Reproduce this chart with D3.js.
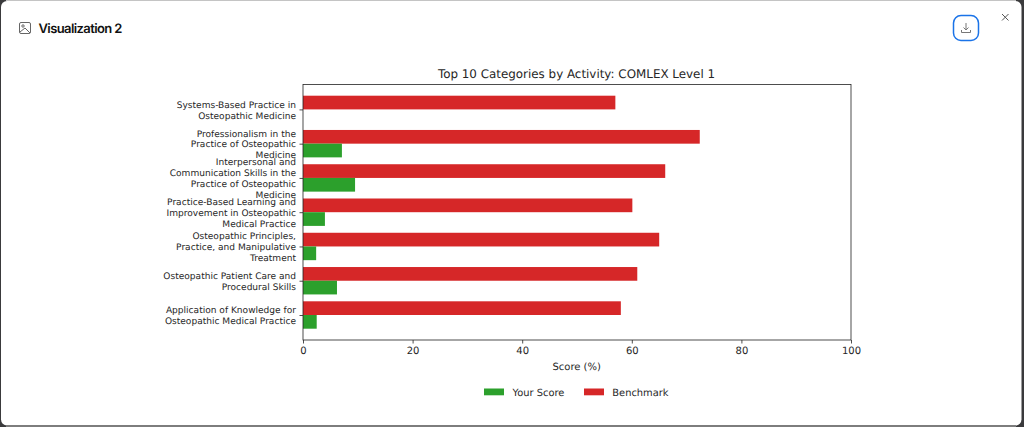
<!DOCTYPE html>
<html><head><meta charset="utf-8">
<script src="https://cdn.jsdelivr.net/npm/d3@7"></script>
<style>
html,body{margin:0;padding:0;background:#fff;overflow:hidden}
svg{display:block}
text{font-family:"DejaVu Sans",sans-serif;fill:#262626;text-rendering:geometricPrecision}
</style></head><body>
<svg id="c" width="1024" height="427"></svg>
<script>
const categories = [
  ["Systems-Based Practice in","Osteopathic Medicine"],
  ["Professionalism in the","Practice of Osteopathic","Medicine"],
  ["Interpersonal and","Communication Skills in the","Practice of Osteopathic","Medicine"],
  ["Practice-Based Learning and","Improvement in Osteopathic","Medical Practice"],
  ["Osteopathic Principles,","Practice, and Manipulative","Treatment"],
  ["Osteopathic Patient Care and","Procedural Skills"],
  ["Application of Knowledge for","Osteopathic Medical Practice"]
];
const benchmark = [57, 72.4, 66.1, 60.1, 65, 61, 58];
const yourScore = [0, 7.1, 9.5, 4, 2.4, 6.2, 2.5];
const xTicks = [0, 20, 40, 60, 80, 100];
const seriesNames = ["Your Score", "Benchmark"];
const colors = {"Your Score":"#2ca02c", "Benchmark":"#d62728"};
const titleText = "Top 10 Categories by Activity: COMLEX Level 1";
const dialogTitle = "Visualization 2";

const svg = d3.select("#c");
// window frame
svg.append("rect").attr("width",1024).attr("height",427).attr("fill","#3a3a3c");
svg.append("rect").attr("x",1).attr("y",1).attr("width",1020.5).attr("height",424.5).attr("rx",6).attr("fill","#fff");
svg.append("line").attr("x1",6).attr("x2",1016).attr("y1",0.5).attr("y2",0.5).attr("stroke","#c4c4c4");
svg.append("line").attr("x1",6).attr("x2",1016).attr("y1",426).attr("y2",426).attr("stroke","#7d7d7d").attr("stroke-width",2);

// header
const ic = svg.append("g").attr("fill","none").attr("stroke","#666").attr("stroke-width",1);
ic.append("rect").attr("x",19.5).attr("y",22.5).attr("width",11).attr("height",11).attr("rx",1.5);
ic.append("circle").attr("cx",23).attr("cy",26).attr("r",1.2);
ic.append("path").attr("d","M20 32 L25 28 L30 33");
svg.append("text").attr("x",38.5).attr("y",32.5).text(dialogTitle)
  .style("font-family","Inter").style("font-size","13px").style("font-weight",600).style("letter-spacing","-0.6px").style("fill","#111");
svg.append("rect").attr("x",953.5).attr("y",15.5).attr("width",25).attr("height",25).attr("rx",7.5)
  .attr("fill","#fff").attr("stroke","#1a73e8").attr("stroke-width",1.5);
const dl = svg.append("g").attr("fill","none").attr("stroke","#777").attr("stroke-width",1);
dl.append("path").attr("d","M966 23 V30 M963.5 27.5 L966 30 L968.5 27.5");
dl.append("path").attr("d","M961.5 30 V32.5 H970.5 V30");
const cl = svg.append("g").attr("stroke","#555").attr("stroke-width",1);
cl.append("line").attr("x1",1002).attr("y1",14).attr("x2",1008.5).attr("y2",20.5);
cl.append("line").attr("x1",1008.5).attr("y1",14).attr("x2",1002).attr("y2",20.5);

// plot
const box = {l:303, r:851, t:84.5, b:340};
const x = d3.scaleLinear().domain([0,100]).range([box.l, box.r]);
const y = d3.scalePoint().domain(d3.range(categories.length)).range([109.4, 315]);
const barH = 13.7;
const plot = svg.append("g");
plot.selectAll("rect.b").data(benchmark).join("rect").attr("class","b")
  .attr("x",x(0)).attr("y",(d,i)=>y(i)-barH).attr("width",d=>x(d)-x(0)).attr("height",barH).attr("fill",colors["Benchmark"]);
plot.selectAll("rect.s").data(yourScore).join("rect").attr("class","s")
  .attr("x",x(0)).attr("y",(d,i)=>y(i)).attr("width",d=>x(d)-x(0)).attr("height",barH).attr("fill",colors["Your Score"]);
svg.append("rect").attr("x",box.l).attr("y",box.t).attr("width",box.r-box.l).attr("height",box.b-box.t)
  .attr("fill","none").attr("stroke","#222").attr("stroke-width",0.8);

const xAxis = svg.append("g").attr("transform",`translate(0,${box.b})`)
  .call(d3.axisBottom(x).tickValues(xTicks).tickSize(3.5).tickPadding(3.5).tickFormat(d3.format("d")));
xAxis.select(".domain").remove();
xAxis.selectAll("line").attr("stroke","#222").attr("stroke-width",0.8);
xAxis.selectAll("text").style("font-family","DejaVu Sans").style("font-size","10px").style("fill","#262626");

const yAxis = svg.append("g").attr("transform",`translate(${box.l},0)`)
  .call(d3.axisLeft(y).tickSize(3.5).tickPadding(3.5).tickFormat(""));
yAxis.select(".domain").remove();
yAxis.selectAll("line").attr("stroke","#222").attr("stroke-width",0.8);
yAxis.selectAll("g.tick").each(function(i){
  const t = d3.select(this).select("text").attr("text-anchor","end").attr("x",-7).attr("y",0).attr("dy",null)
    .style("font-family","DejaVu Sans").style("font-size","9.05px").style("fill","#262626");
  const lines = categories[i], lh = 10.9;
  t.selectAll("tspan").data(lines).join("tspan").attr("x",-7)
    .attr("y",(d,k)=>(k-(lines.length-1)/2)*lh+3.3).text(d=>d);
});

svg.append("text").attr("x",576.5).attr("y",78).attr("text-anchor","middle").style("font-size","11.9px").text(titleText);
svg.append("text").attr("x",576.7).attr("y",369.5).attr("text-anchor","middle").style("font-size","10px").text("Score (%)");

// legend
const lg = [{n:seriesNames[0],sx:484,tx:512.5},{n:seriesNames[1],sx:584,tx:612.3}];
const lgG = svg.append("g").selectAll("g").data(lg).join("g");
lgG.append("rect").attr("x",d=>d.sx).attr("y",388.5).attr("width",20).attr("height",6.8).attr("fill",d=>colors[d.n]);
lgG.append("text").attr("x",d=>d.tx).attr("y",395.7).style("font-size","9.9px").text(d=>d.n);
</script>
</body></html>
